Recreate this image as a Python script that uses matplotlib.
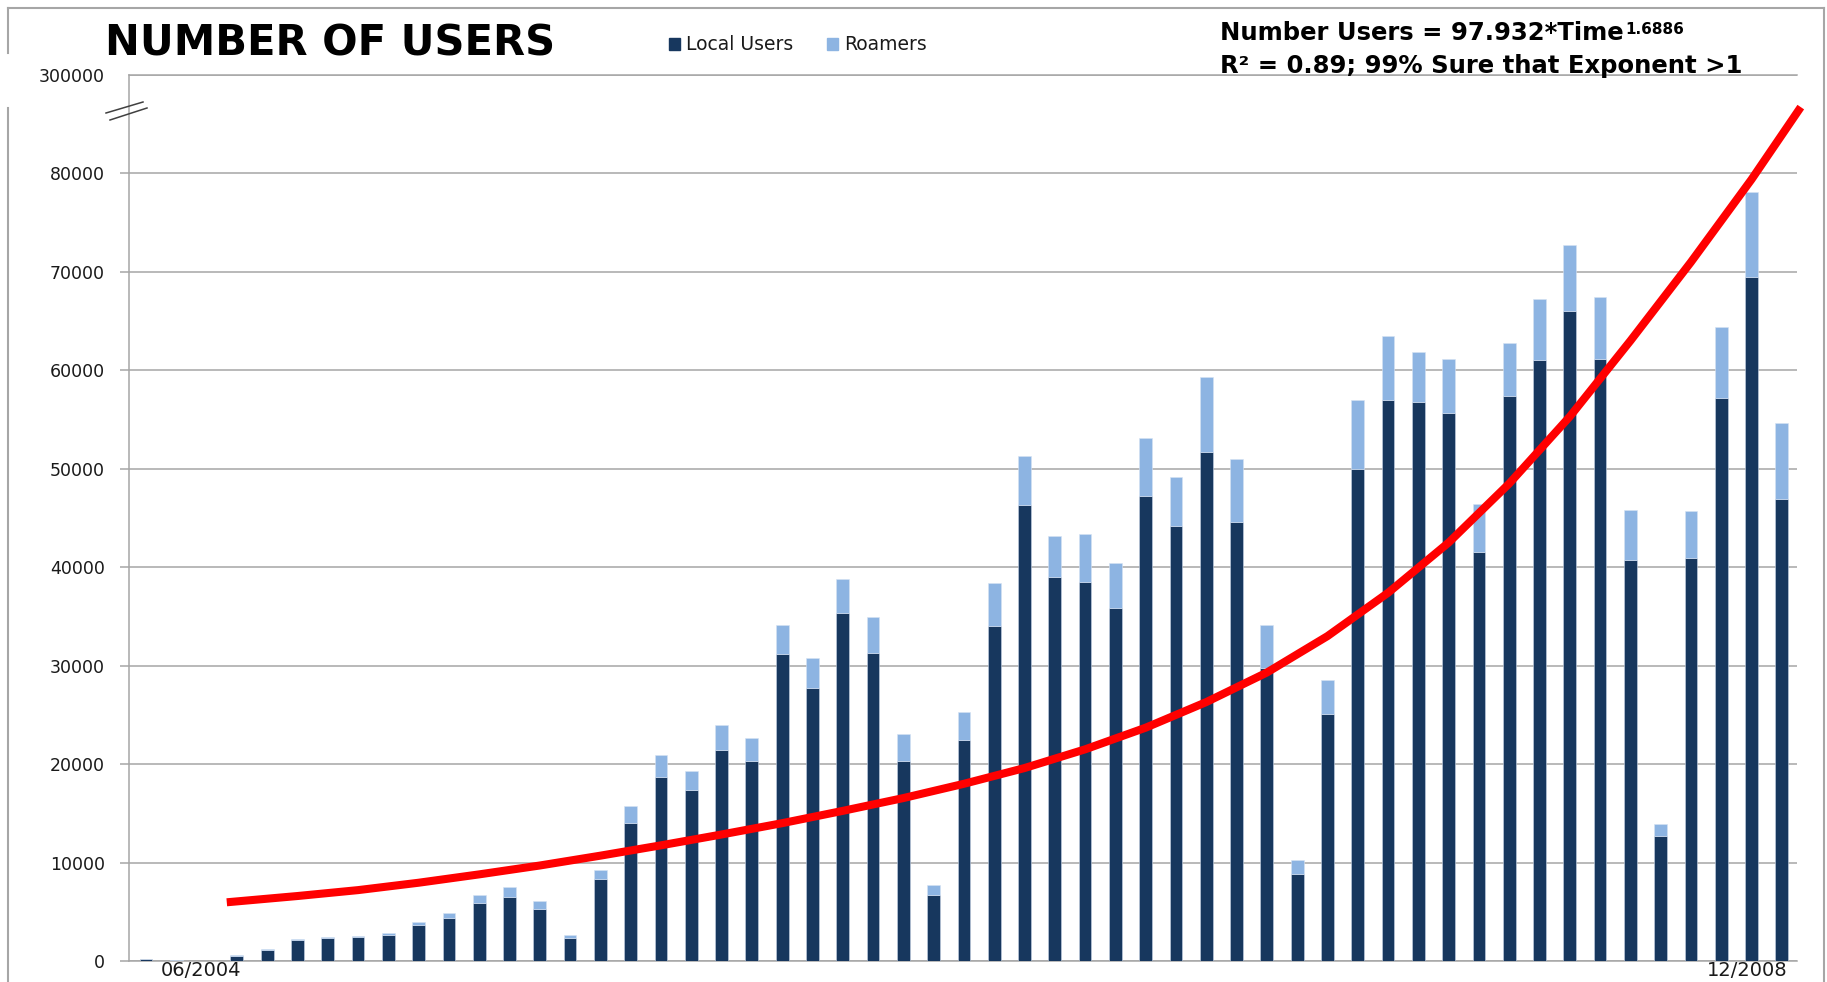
import numpy as np
import matplotlib
matplotlib.use('Agg')
import matplotlib.pyplot as plt
from matplotlib.lines import Line2D
from matplotlib.patches import Patch

# monthly users, 06/2004 .. 12/2008
local_users = [180, 0, 0, 480, 1090, 2170, 2340, 2440, 2610, 3700,
               4410, 5940, 6550, 5330, 2340, 8350, 14060, 18730, 17400, 21440,
               20280, 31160, 27760, 35300, 31320, 20280, 6690, 22500, 34080, 46340,
               39020, 38540, 35830, 47240, 44160, 51750, 44590, 29720, 8860, 25050,
               50000, 57010, 56740, 55630, 41510, 57390, 61040, 66040, 61150, 40730,
               12650, 40910, 57150, 69510, 46910]
roamers = [0, 120, 0, 170, 170, 100, 140, 140, 270, 270,
           440, 740, 920, 740, 270, 880, 1640, 2170, 1870, 2500,
           2330, 3020, 2970, 3550, 3610, 2760, 1060, 2770, 4300, 4990,
           4190, 4830, 4620, 5890, 5040, 7540, 6370, 4460, 1380, 3510,
           7010, 6470, 5100, 5570, 4930, 5410, 6180, 6710, 6300, 5120,
           1300, 4820, 7300, 8590, 7770]

# trend curve (month index, users)
trend_x = [2.8, 5, 7, 9, 11, 13, 15, 17, 19, 21, 23, 25, 27, 29, 31, 33, 35,
           37, 39, 41, 43, 45, 47, 49, 51, 53, 54.55]
trend_y = [6000, 6600, 7200, 7950, 8800, 9700, 10700, 11750, 12850, 14000,
           15250, 16550, 18000, 19600, 21500, 23700, 26300, 29300, 33000, 37400,
           42500, 48500, 55300, 63000, 71000, 79400, 86400]

y_ticks = [0, 10000, 20000, 30000, 40000, 50000, 60000, 70000, 80000, 90000]
y_labels = ['0', '10000', '20000', '30000', '40000', '50000', '60000', '70000', '80000', '300000']
x_labels = ['06/2004', '12/2008']

navy = '#17375E'
light = '#8DB4E2'
grid_c = '#A6A6A6'
txt_c = '#1A1A1A'

W, H = 1827, 982
fig = plt.figure(figsize=(W / 100, H / 100), dpi=100)
ax = fig.add_axes([129 / W, 1 - 961 / H, (1797 - 129) / W, (961 - 75) / H])

x = np.arange(len(local_users))
ax.bar(x, local_users, width=0.42, color=navy, edgecolor='#C8D4E6', linewidth=0.4, zorder=3)
ax.bar(x, roamers, bottom=local_users, width=0.42, color=light, edgecolor='#D6E2F2',
       linewidth=0.4, zorder=3)
ax.plot(trend_x, trend_y, color='#FF0000', lw=5.8, zorder=4, clip_on=False,
        solid_joinstyle='round')

ax.set_xlim(-0.56, 54.5)
ax.set_ylim(0, 90000)
ax.set_yticks(y_ticks, y_labels)
ax.set_xticks([1.82, 52.84], x_labels)
ax.yaxis.grid(True, color=grid_c, lw=1.1)
ax.set_axisbelow(True)
ax.spines['right'].set_visible(False)
for s in ['left', 'bottom', 'top']:
    ax.spines[s].set_color(grid_c)
    ax.spines[s].set_linewidth(1.1)
ax.tick_params(axis='y', length=6.5, width=1.1, color=grid_c, pad=11, labelsize=12.5, labelcolor=txt_c)
ax.tick_params(axis='x', length=0, pad=0, labelsize=14, labelcolor=txt_c)
ax.yaxis.get_major_ticks()[-1].tick1line.set_visible(False)

# axis break marks
fig.add_artist(Line2D([106 / W, 143 / W], [1 - 113 / H, 1 - 102 / H], color='#404040', lw=1.1))
fig.add_artist(Line2D([110 / W, 147 / W], [1 - 120 / H, 1 - 108 / H], color='#404040', lw=1.1))

# outer chart border
bc = '#A6A6A6'
fig.add_artist(Line2D([8 / W, 1824 / W], [1 - 8 / H, 1 - 8 / H], color=bc, lw=1.5))
fig.add_artist(Line2D([1824 / W, 1824 / W], [1 - 8 / H, 0], color=bc, lw=1.5))
fig.add_artist(Line2D([8 / W, 8 / W], [1 - 8 / H, 1 - 53 / H], color=bc, lw=1.5))
fig.add_artist(Line2D([8 / W, 8 / W], [1 - 108 / H, 0], color=bc, lw=1.5))

fig.text(105 / W, 1 - 55 / H, 'NUMBER OF USERS', fontsize=30, weight='bold', color='black',
         va='baseline')

handles = [Patch(color=navy), Patch(color=light)]
fig.legend(handles, ['Local Users', 'Roamers'], loc='center left',
           bbox_to_anchor=(652 / W, 1 - 45 / H), ncol=2, frameon=False, fontsize=13.5,
           handlelength=0.6, handleheight=0.6, handletextpad=0.3, columnspacing=1.8,
           labelcolor=txt_c)

t1 = fig.text(1220 / W, 1 - 40 / H, 'Number Users = 97.932*Time', fontsize=17.5,
              weight='bold', color='black', va='baseline')
ax.annotate('1.6886', xy=(1, 1), xycoords=t1, xytext=(1, -1), textcoords='offset points',
            fontsize=11, weight='bold', color='black', va='top', ha='left')
fig.text(1220 / W, 1 - 73 / H, 'R\u00b2 = 0.89; 99% Sure that Exponent >1', fontsize=17.5,
         weight='bold', color='black', va='baseline')

fig.savefig('out.png', dpi=100)
